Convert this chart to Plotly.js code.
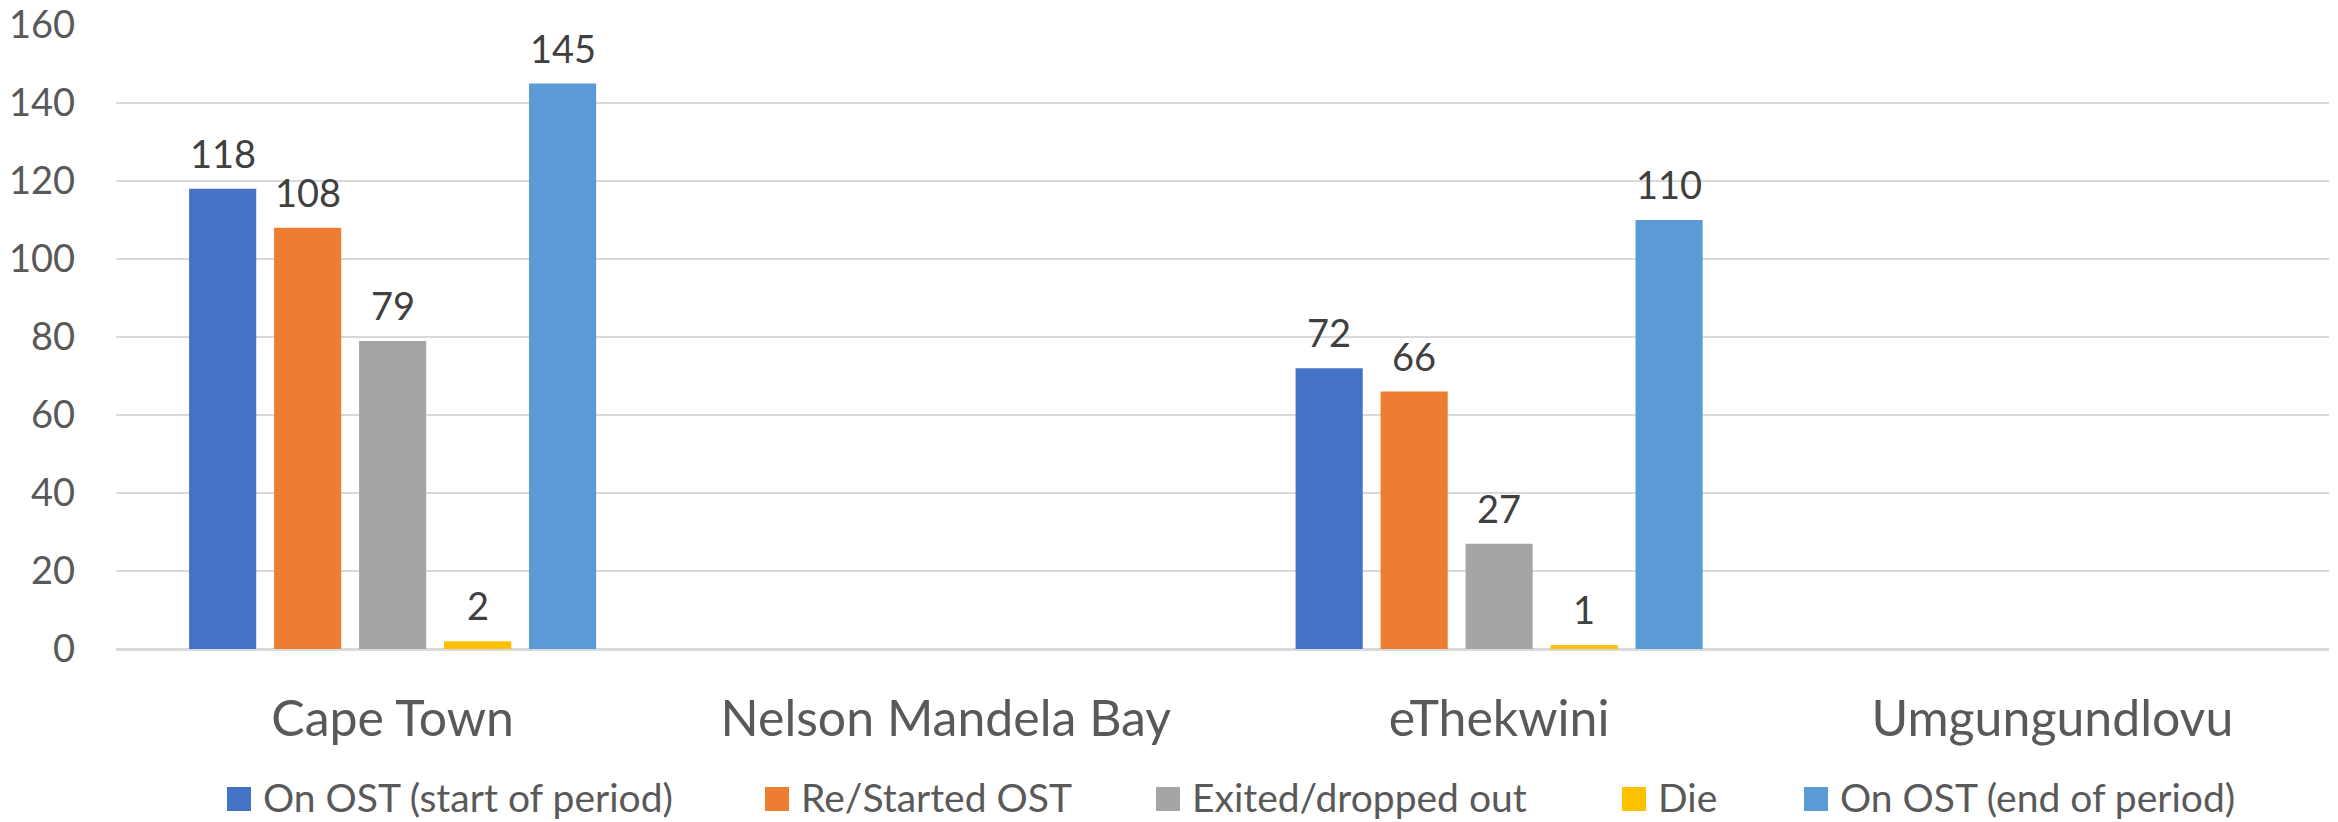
<!DOCTYPE html>
<html>
<head>
<meta charset="utf-8">
<script src="https://cdn.plot.ly/plotly-3.0.1.min.js"></script>
<style>
  html, body { margin: 0; padding: 0; background: #ffffff; }
  #chart { width: 2338px; height: 822px; }
</style>
</head>
<body>
<div id="chart"></div>
<script>
// ---- data ----
const categories = ["Cape Town", "Nelson Mandela Bay", "eThekwini", "Umgungundlovu"];
const seriesNames = ["On OST (start of period)", "Re/Started OST", "Exited/dropped out", "Die", "On OST (end of period)"];
const onStart  = [118, null, 72, null];
const started  = [108, null, 66, null];
const exited   = [79, null, 27, null];
const died     = [2, null, 1, null];
const onEnd    = [145, null, 110, null];
const yTicks   = [0, 20, 40, 60, 80, 100, 120, 140, 160];

const seriesValues = [onStart, started, exited, died, onEnd];
const colors = ["#4472C4", "#ED7D31", "#A5A5A5", "#FFC000", "#5B9BD5"];

// ---- style / geometry ----
const FONT = "Lato, 'Open Sans', sans-serif";
const W = 2338, H = 822;
const M = { l: 116, r: 9, t: 25, b: 173 };
const BARGAP = 0.232, BARGROUPGAP = 0.21;
const plotW = W - M.l - M.r;
const plotH = H - M.t - M.b;
const slotPx = plotW / categories.length * (1 - BARGAP) / seriesValues.length;

// legend layout (pixel positions of each entry's square and the row centre)
const legendSquareLeft = [227, 765, 1156, 1622, 1804];
const legendSquareSize = 24;
const legendTextGap = 36;
const legendRowY = 797;

const px2x = px => (px - M.l) / plotW;          // paper x from pixel
const px2y = py => (H - M.b - py) / plotH;      // paper y from pixel

const traces = seriesValues.map((vals, i) => ({
  type: "bar",
  name: seriesNames[i],
  x: categories,
  y: vals,
  marker: { color: colors[i] },
  showlegend: false,
  hoverinfo: "x+y+name"
}));

// data labels above bars (from the series arrays)
const annotations = [];
seriesValues.forEach((vals, i) => {
  vals.forEach((v, j) => {
    if (v === null) return;
    annotations.push({
      x: categories[j], y: v, xref: "x", yref: "y",
      text: String(v), showarrow: false,
      xanchor: "center", yanchor: "bottom",
      xshift: (i - (seriesValues.length - 1) / 2) * slotPx,
      yshift: 11,
      font: { family: FONT, size: 38, color: "#404040" }
    });
  });
});

// legend: coloured squares + series names
const shapes = [];
seriesNames.forEach((name, i) => {
  const x0 = legendSquareLeft[i];
  shapes.push({
    type: "rect", xref: "paper", yref: "paper", layer: "above",
    x0: px2x(x0), x1: px2x(x0 + legendSquareSize),
    y0: px2y(legendRowY + 2 + legendSquareSize / 2), y1: px2y(legendRowY + 2 - legendSquareSize / 2),
    fillcolor: colors[i], line: { width: 0 }
  });
  annotations.push({
    xref: "paper", yref: "paper",
    x: px2x(x0 + legendTextGap - 1), y: px2y(legendRowY),
    xanchor: "left", yanchor: "middle",
    borderpad: 0,
    text: name, showarrow: false,
    font: { family: FONT, size: 39, color: "#595959" }
  });
});

const layout = {
  width: W,
  height: H,
  margin: Object.assign({ autoexpand: false }, M),
  paper_bgcolor: "#ffffff",
  plot_bgcolor: "#ffffff",
  barmode: "group",
  bargap: BARGAP,
  bargroupgap: BARGROUPGAP,
  showlegend: false,
  font: { family: FONT, color: "#595959" },
  xaxis: {
    type: "category",
    showgrid: false,
    showline: false,
    zeroline: false,
    ticks: "",
    ticklabelstandoff: 36,
    tickfont: { family: FONT, size: 50, color: "#595959" }
  },
  yaxis: {
    range: [0, 160],
    tickvals: yTicks,
    ticktext: yTicks.map(String),
    showgrid: true,
    gridcolor: "#D9D9D9",
    gridwidth: 2,
    zeroline: true,
    zerolinecolor: "#D9D9D9",
    zerolinewidth: 3,
    showline: false,
    ticks: "",
    ticklabelstandoff: 40,
    ticklabeloverflow: "allow",
    tickfont: { family: FONT, size: 38, color: "#595959" }
  },
  annotations: annotations,
  shapes: shapes
};

Plotly.newPlot("chart", traces, layout, { staticPlot: true, displayModeBar: false });
</script>
</body>
</html>
